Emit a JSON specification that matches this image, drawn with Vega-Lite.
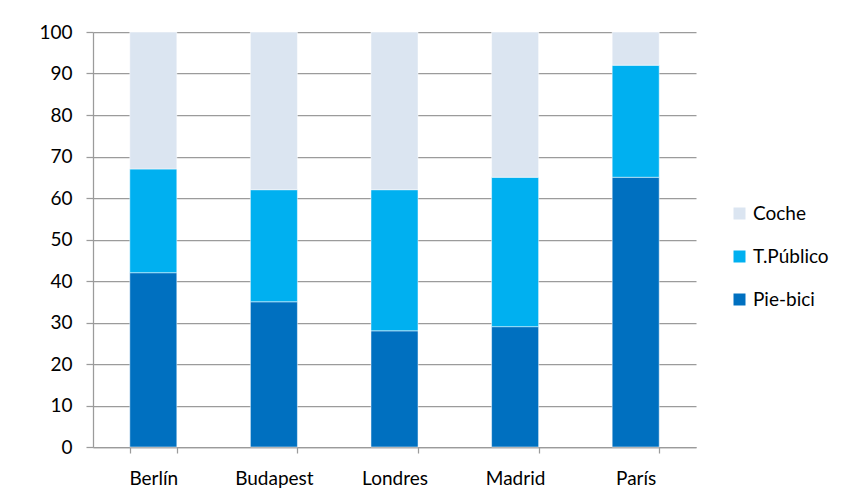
{
  "$schema": "https://vega.github.io/schema/vega-lite/v6.json",
  "autosize": {"type": "none"},
  "padding": {"left": 93, "top": 32, "right": 160, "bottom": 55},
  "width": 603,
  "height": 415,
  "background": "white",
  "config": {
    "view": {"stroke": null},
    "font": "Lato",
    "axis": {
      "labelFont": "Lato",
      "labelFontSize": 19,
      "labelColor": "#000000",
      "domainColor": "#9b9b9b",
      "tickColor": "#9b9b9b",
      "gridColor": "#9b9b9b",
      "domainWidth": 1.25,
      "tickWidth": 1.25,
      "gridWidth": 1.25,
      "title": null
    }
  },
  "data": {
    "values": [
      {"ciudad": "Berlín", "modo": "Pie-bici", "n": 1, "valor": 42},
      {"ciudad": "Berlín", "modo": "T.Público", "n": 2, "valor": 25},
      {"ciudad": "Berlín", "modo": "Coche", "n": 3, "valor": 33},
      {"ciudad": "Budapest", "modo": "Pie-bici", "n": 1, "valor": 35},
      {"ciudad": "Budapest", "modo": "T.Público", "n": 2, "valor": 27},
      {"ciudad": "Budapest", "modo": "Coche", "n": 3, "valor": 38},
      {"ciudad": "Londres", "modo": "Pie-bici", "n": 1, "valor": 28},
      {"ciudad": "Londres", "modo": "T.Público", "n": 2, "valor": 34},
      {"ciudad": "Londres", "modo": "Coche", "n": 3, "valor": 38},
      {"ciudad": "Madrid", "modo": "Pie-bici", "n": 1, "valor": 29},
      {"ciudad": "Madrid", "modo": "T.Público", "n": 2, "valor": 36},
      {"ciudad": "Madrid", "modo": "Coche", "n": 3, "valor": 35},
      {"ciudad": "París", "modo": "Pie-bici", "n": 1, "valor": 65},
      {"ciudad": "París", "modo": "T.Público", "n": 2, "valor": 27},
      {"ciudad": "París", "modo": "Coche", "n": 3, "valor": 8}
    ]
  },
  "mark": {"type": "bar", "stroke": "white", "strokeWidth": 0.5},
  "encoding": {
    "x": {
      "field": "ciudad",
      "type": "nominal",
      "sort": ["Berlín", "Budapest", "Londres", "Madrid", "París"],
      "scale": {"paddingInner": 0.61, "paddingOuter": 0.305},
      "axis": {"labelAngle": 0, "tickBand": "extent", "tickSize": 6, "labelPadding": 16, "grid": false}
    },
    "y": {
      "field": "valor",
      "type": "quantitative",
      "stack": "zero",
      "scale": {"domain": [0, 100], "nice": false},
      "axis": {"values": [0, 10, 20, 30, 40, 50, 60, 70, 80, 90, 100], "tickSize": 7, "labelPadding": 14, "grid": true}
    },
    "order": {"field": "n", "type": "quantitative"},
    "color": {
      "field": "modo",
      "type": "nominal",
      "scale": {
        "domain": ["Coche", "T.Público", "Pie-bici"],
        "range": ["#dbe5f1", "#00b0f0", "#0070c0"]
      },
      "legend": {
        "title": null,
        "orient": "none",
        "legendX": 637,
        "legendY": 172,
        "symbolType": "square",
        "symbolSize": 144,
        "symbolStrokeWidth": 0,
        "labelFont": "Lato",
        "labelFontSize": 19,
        "labelColor": "#000000",
        "labelOffset": 4,
        "rowPadding": 23,
        "padding": 0
      }
    }
  }
}
